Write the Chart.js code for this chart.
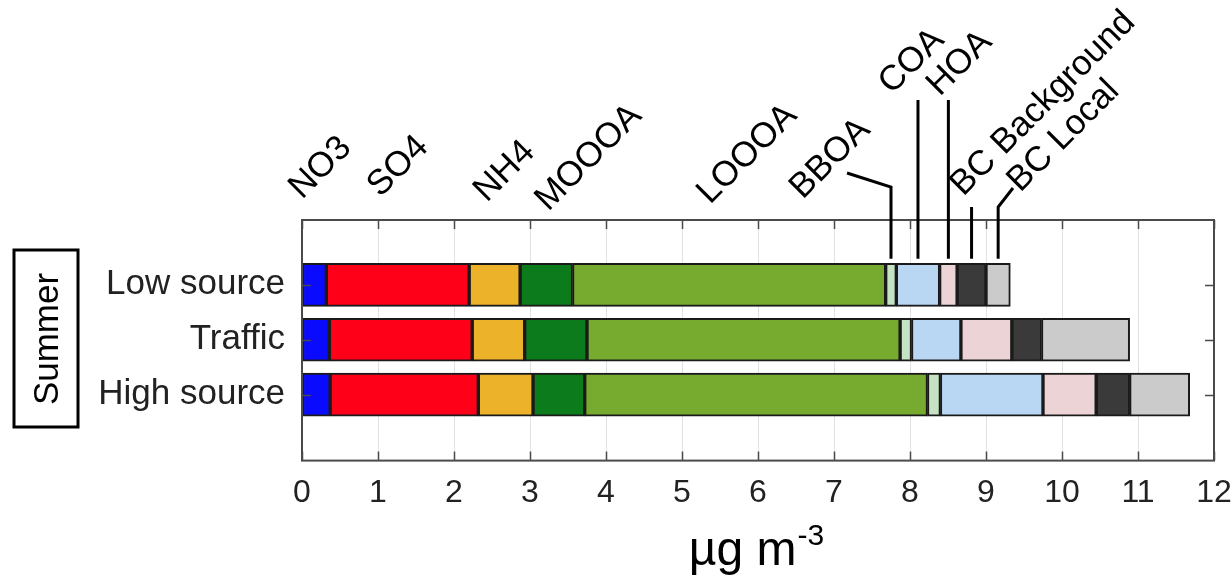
<!DOCTYPE html>
<html>
<head>
<meta charset="utf-8">
<script src="https://cdn.jsdelivr.net/npm/chart.js@4/dist/chart.umd.min.js"></script>
<style>
    html, body { margin: 0; padding: 0; background: #fff; }
    #wrap { width: 1232px; height: 579px; }
</style>
</head>
<body>
<div id="wrap"><canvas id="chart" width="1232" height="579"></canvas></div>
<script>
// ────────────────────────────────────────
// Data (µg m-3)
// ────────────────────────────────────────
const CATS = ['Low source', 'Traffic', 'High source'];
const X_TICKS = [0, 1, 2, 3, 4, 5, 6, 7, 8, 9, 10, 11, 12];

const NO3 = [0.32, 0.36, 0.37];
const SO4 = [1.88, 1.88, 1.95];
const NH4 = [0.67, 0.69, 0.72];
const MOOOA = [0.69, 0.82, 0.68];
const LOOOA = [4.12, 4.12, 4.51];
const BBOA = [0.14, 0.15, 0.17];
const COA = [0.57, 0.65, 1.35];
const HOA = [0.23, 0.67, 0.70];
const BC_BG = [0.38, 0.39, 0.44];
const BC_LOCAL = [0.32, 1.16, 0.79];

const SERIES = [
    { label: 'NO3', data: NO3, color: '#0a0aff' },
    { label: 'SO4', data: SO4, color: '#fe0018' },
    { label: 'NH4', data: NH4, color: '#ecb22a' },
    { label: 'MOOOA', data: MOOOA, color: '#0b7b1b' },
    { label: 'LOOOA', data: LOOOA, color: '#77ab30' },
    { label: 'BBOA', data: BBOA, color: '#c5e2c3' },
    { label: 'COA', data: COA, color: '#b9d6f3' },
    { label: 'HOA', data: HOA, color: '#ecd4d6' },
    { label: 'BC Background', data: BC_BG, color: '#3a3a3a' },
    { label: 'BC Local', data: BC_LOCAL, color: '#cbcbcb' },
];

const FONT = '"Liberation Sans", Arial, Helvetica, sans-serif';

// species labels above the plot (x in data units, y in px), rotated 45°
const TOP_LABELS = [
    { text: 'NO3', x: 0.0, y: 200 },
    { text: 'SO4', x: 1.03, y: 198 },
    { text: 'NH4', x: 2.43, y: 203 },
    { text: 'MOOOA', x: 3.24, y: 212 },
    { text: 'LOOOA', x: 5.37, y: 205 },
    { text: 'BBOA', x: 6.59, y: 200 },
    { text: 'COA', x: 7.76, y: 95 },
    { text: 'HOA', x: 8.39, y: 97 },
    { text: 'BC Background', x: 8.70, y: 197 },
    { text: 'BC Local', x: 9.45, y: 193 },
];

// ────────────────────────────────────────
// Frame, annotations, axis title, panel box
// ────────────────────────────────────────
const decorations = {
    id: 'decorations',
    afterDraw(chart) {
        const { ctx, chartArea: a, scales: { x, y } } = chart;
        ctx.save();

        // box + inward ticks
        ctx.strokeStyle = '#4a4a4a';
        ctx.lineWidth = 2;
        ctx.strokeRect(a.left, a.top, a.right - a.left, a.bottom - a.top);
        ctx.lineWidth = 1.5;
        ctx.beginPath();
        X_TICKS.forEach(t => {
            const px = Math.round(x.getPixelForValue(t)) + 0.5;
            ctx.moveTo(px, a.bottom); ctx.lineTo(px, a.bottom - 9);
            ctx.moveTo(px, a.top); ctx.lineTo(px, a.top + 9);
        });
        CATS.forEach((c, i) => {
            const py = Math.round(y.getPixelForValue(i + 1)) + 0.5;
            ctx.moveTo(a.left, py); ctx.lineTo(a.left + 9, py);
            ctx.moveTo(a.right, py); ctx.lineTo(a.right - 9, py);
        });
        ctx.stroke();

        // leader lines to the small Low source segments
        const low = SERIES.map(s => s.data[0]);
        const mids = [];
        let acc = 0;
        low.forEach(v => { mids.push(acc + v / 2); acc += v; });
        const px = i => x.getPixelForValue(mids[i]);
        const barTop = y.getPixelForValue(1) - 26;
        ctx.strokeStyle = '#000';
        ctx.lineWidth = 3;
        ctx.lineJoin = 'miter';
        ctx.beginPath();
        ctx.moveTo(847, 173); ctx.lineTo(px(5), 187); ctx.lineTo(px(5), barTop);
        ctx.moveTo(px(6), 100); ctx.lineTo(px(6), barTop);
        ctx.moveTo(px(7), 100); ctx.lineTo(px(7), barTop);
        ctx.moveTo(px(8), 207); ctx.lineTo(px(8), barTop);
        ctx.moveTo(1013, 188); ctx.lineTo(px(9), 207); ctx.lineTo(px(9), barTop);
        ctx.stroke();

        // rotated species labels
        ctx.fillStyle = '#000';
        ctx.font = '35px ' + FONT;
        ctx.textAlign = 'left';
        ctx.textBaseline = 'alphabetic';
        TOP_LABELS.forEach(l => {
            ctx.save();
            ctx.translate(x.getPixelForValue(l.x), l.y);
            ctx.rotate(-Math.PI / 4);
            ctx.fillText(l.text, 0, 0);
            ctx.restore();
        });

        // x axis title: µg m-3
        const cx = (a.left + a.right) / 2;
        ctx.font = '48px ' + FONT;
        const main = '\u00b5g m';
        const wMain = ctx.measureText(main).width;
        ctx.font = '30px ' + FONT;
        const wSup = ctx.measureText('-3').width;
        const x0 = cx - (wMain + wSup) / 2 - 2;
        ctx.font = '48px ' + FONT;
        ctx.fillText(main, x0, 565);
        ctx.font = '30px ' + FONT;
        ctx.fillText('-3', x0 + wMain + 1, 545);

        // panel box "Summer"
        ctx.strokeStyle = '#000';
        ctx.lineWidth = 3;
        ctx.strokeRect(14, 250, 64, 177);
        ctx.save();
        ctx.translate(58, 339);
        ctx.rotate(-Math.PI / 2);
        ctx.font = '35px ' + FONT;
        ctx.textAlign = 'center';
        ctx.fillText('Summer', 0, 0);
        ctx.restore();

        ctx.restore();
    },
};

// ────────────────────────────────────────
// Chart
// ────────────────────────────────────────
new Chart(document.getElementById('chart'), {
    type: 'bar',
    data: {
        datasets: SERIES.map(s => ({
            label: s.label,
            data: s.data.map((v, i) => ({ x: v, y: i + 1 })),
            backgroundColor: s.color,
            borderColor: '#1a1a1a',
            borderWidth: 2,
            borderSkipped: false,
            barThickness: 43,
        })),
    },
    options: {
        indexAxis: 'y',
        responsive: false,
        animation: false,
        layout: { padding: { top: 220, right: 18, bottom: 54, left: 0 } },
        plugins: {
            legend: { display: false },
            tooltip: { enabled: false },
        },
        scales: {
            x: {
                type: 'linear',
                stacked: true,
                min: 0,
                max: 12,
                afterBuildTicks: axis => { axis.ticks = X_TICKS.map(v => ({ value: v })); },
                afterFit: axis => { axis.paddingRight = 0; axis.paddingLeft = 0; },
                grid: { color: '#e2e2e2', lineWidth: 1, drawTicks: false },
                border: { display: false },
                ticks: {
                    color: '#222',
                    padding: 13,
                    font: { family: FONT, size: 32 },
                    maxRotation: 0,
                },
            },
            y: {
                type: 'linear',
                stacked: true,
                reverse: true,
                offset: false,
                min: -0.18,
                max: 4.2,
                afterBuildTicks: axis => { axis.ticks = CATS.map((c, i) => ({ value: i + 1 })); },
                afterFit: axis => { axis.width = 302; },
                grid: { display: false, drawTicks: false },
                border: { display: false },
                ticks: {
                    color: '#222',
                    padding: 17,
                    font: { family: FONT, size: 35 },
                    callback: v => CATS[v - 1],
                },
            },
        },
    },
    plugins: [decorations],
});
</script>
</body>
</html>
